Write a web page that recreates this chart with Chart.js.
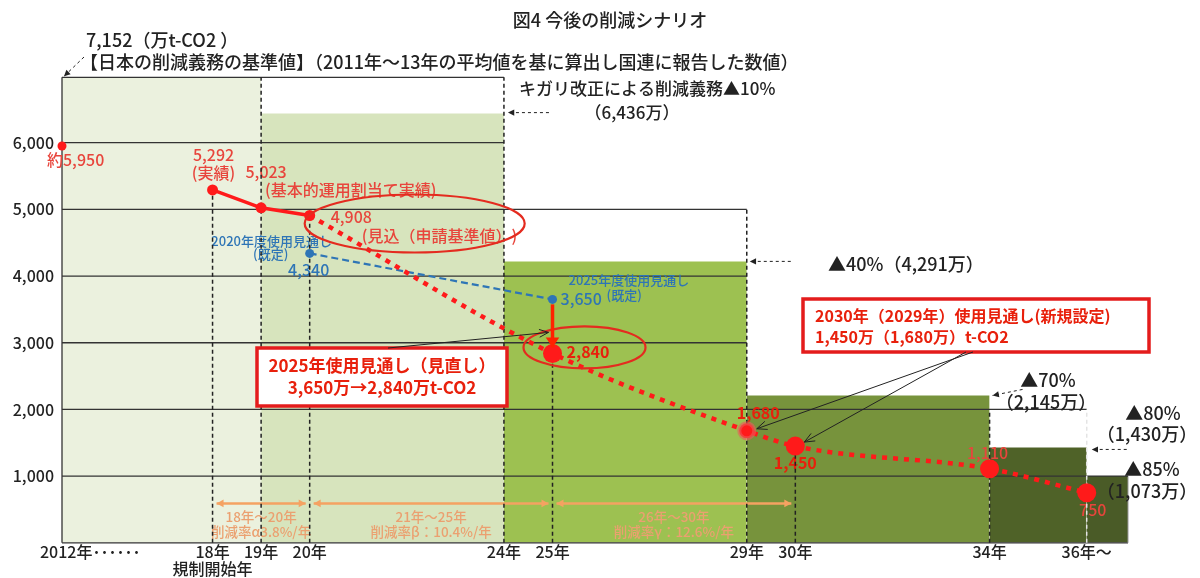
<!DOCTYPE html>
<html lang="ja">
<head>
<meta charset="utf-8">
<script src="https://cdn.jsdelivr.net/npm/chart.js@4.4.1/dist/chart.umd.min.js"></script>
<style>
  html, body { margin: 0; padding: 0; background: #fff; }
</style>
</head>
<body>
<canvas id="chart" width="1200" height="578"></canvas>
<script>
const FONT = '"Noto Sans CJK JP", "Noto Sans", sans-serif';

// x軸（年）
const xMin = 14.9, xMax = 36.85;
const xTickYears = [15.48, 18, 19, 20, 24, 25, 29, 30, 34, 36];
const xTickLabels = ['2012年･･････', ['18年', '規制開始年'], '19年', '20年', '24年', '25年', '29年', '30年', '34年', '36年～'];
// y軸
const yTicks = [1000, 2000, 3000, 4000, 5000, 6000];
const gridEnd = [36.85, 36, 29, 29, 29, 24];

// 2012年の排出量（約）
const baseValue = 5950;
// 実績
const actualYears = [18, 19, 20];
const actualValues = [5292, 5023, 4908];
// 見込・新しい使用見通し
const planYears = [20, 25, 29, 30, 34, 36];
const planValues = [4908, 2840, 1680, 1450, 1110, 750];
// 既定の使用見通し
const oldYears = [20, 25];
const oldValues = [4340, 3650];

// 削減義務の段階（基準値 → ▲10% → ▲40% → ▲70% → ▲80% → ▲85%）
const stepStart = [14.9, 19, 24, 29, 34, 36];
const stepEnd = [19, 24, 29, 34, 36, 36.85];
const stepValue = [6980, 6436, 4220, 2210, 1430, 1000];
const baseTop = 6980;

// 縦の補助線
const guideYears = [18, 19, 20, 24, 25, 29, 30, 34, 36];
const guideTops = [5292, 6980, 4908, 6980, 2840, 5000, 1450, 2000, 2000];

const stepFill = ['#ebf1de', '#d7e4bd', '#9dc151', '#77933c', '#4f6228', '#4a5b27'];
const RED = '#ff1a1a', RED_TXT = '#e8453c', BLUE = '#2e75b6', ORANGE = '#f5a262';

const ds = [];
function seg(x0, y0, x1, y1, style) {
  return Object.assign({ data: [{ x: x0, y: y0 }, { x: x1, y: y1 }], pointRadius: 0, fill: false, clip: false, tension: 0, borderWidth: 1 }, style);
}

// 塗り
stepStart.forEach((s, i) => {
  ds.push(seg(s, stepValue[i], stepEnd[i], stepValue[i], { fill: 'origin', backgroundColor: stepFill[i], borderColor: 'rgba(0,0,0,0)', borderWidth: 0 }));
});
// 枠と目盛線
ds.push(seg(xMin, baseTop, 24, baseTop, { borderColor: '#333', borderWidth: 1.3 }));
ds.push(seg(xMin, 0, xMin, baseTop, { borderColor: '#333', borderWidth: 1.3 }));
ds.push(seg(xMin, 0, xMax, 0, { borderColor: '#333', borderWidth: 1.3 }));
ds.push(seg(xMax, 0, xMax, 1000, { borderColor: '#999', borderWidth: 1 }));
yTicks.forEach((v, i) => {
  ds.push(seg(xMin, v, gridEnd[i], v, { borderColor: '#333', borderWidth: 1.3, labelHook: i === yTicks.length - 1 }));
});
// 縦の破線
guideYears.forEach((yr, i) => {
  ds.push(seg(yr, 0, yr, guideTops[i], { borderColor: yr === 36 ? '#e4e4e4' : '#222', borderWidth: 1.5, borderDash: [4, 3] }));
});
// 既定の見通し
ds.push({ data: oldYears.map((x, i) => ({ x, y: oldValues[i] })), borderColor: BLUE, backgroundColor: BLUE, borderWidth: 2.2, borderDash: [7, 4], pointRadius: 4.5, pointBorderWidth: 0, fill: false, clip: false });
// 見込（点線）
ds.push({ data: planYears.map((x, i) => ({ x, y: planValues[i] })), borderColor: RED, backgroundColor: RED, borderWidth: 4.5, borderDash: [5, 6], cubicInterpolationMode: 'monotone',
  pointRadius: [0, 9.5, 7.5, 9.5, 9.5, 9.5], pointBorderWidth: [0, 0, 4, 0, 0, 0], pointBorderColor: 'rgba(235,90,90,0.6)', fill: false, clip: false });
// 実績（実線）
ds.push({ data: actualYears.map((x, i) => ({ x, y: actualValues[i] })), borderColor: RED, backgroundColor: RED, borderWidth: 3.5, pointRadius: 5.5, pointBorderWidth: 0, fill: false, clip: false });
// 2012年
ds.push({ data: [{ x: xMin, y: baseValue }], backgroundColor: RED, pointRadius: 4.5, pointBorderWidth: 0, showLine: false, clip: false });

ds.forEach((d, i) => { d.order = ds.length - i; });

function text(ctx, s, x, y, o) {
  o = o || {};
  ctx.save();
  ctx.font = (o.bold ? 'bold ' : '500 ') + (o.size || 16) + 'px ' + FONT;
  ctx.fillStyle = o.color || '#222';
  ctx.textAlign = o.align || 'left';
  ctx.textBaseline = 'middle';
  ctx.fillText(s, x, y);
  ctx.restore();
}

function arrow(ctx, x0, y0, x1, y1, o) {
  o = o || {};
  ctx.save();
  ctx.strokeStyle = o.color || '#222';
  ctx.fillStyle = o.color || '#222';
  ctx.lineWidth = o.width || 1;
  ctx.setLineDash(o.dash || []);
  ctx.beginPath(); ctx.moveTo(x0, y0); ctx.lineTo(x1, y1); ctx.stroke();
  ctx.setLineDash([]);
  const a = Math.atan2(y1 - y0, x1 - x0), h = o.head || 7, w = o.spread || 0.45;
  const heads = o.both ? [[x1, y1, a], [x0, y0, a + Math.PI]] : [[x1, y1, a]];
  heads.forEach(([hx, hy, ang]) => {
    ctx.beginPath();
    ctx.moveTo(hx - h * Math.cos(ang - w), hy - h * Math.sin(ang - w));
    ctx.lineTo(hx, hy);
    ctx.lineTo(hx - h * Math.cos(ang + w), hy - h * Math.sin(ang + w));
    if (o.open) ctx.stroke(); else { ctx.closePath(); ctx.fill(); }
  });
  ctx.restore();
}

function ellipse(ctx, cx, cy, rx, ry) {
  ctx.save();
  ctx.strokeStyle = '#e42b1f';
  ctx.lineWidth = 2.2;
  ctx.beginPath(); ctx.ellipse(cx, cy, rx, ry, 0, 0, Math.PI * 2); ctx.stroke();
  ctx.restore();
}

function at(chart, x, y) {
  return { x: chart.scales.x.getPixelForValue(x), y: chart.scales.y.getPixelForValue(y) };
}

// 点のラベル（縦の破線より下に描く）
function drawPointLabels(chart) {
  const ctx = chart.ctx;
  let p = at(chart, xMin, baseValue);
  text(ctx, '約5,950', p.x - 15, p.y + 14, { color: RED_TXT });
  p = at(chart, actualYears[0], actualValues[0]);
  text(ctx, '5,292', p.x + 1, p.y - 35, { color: RED_TXT, align: 'center' });
  text(ctx, '(実績)', p.x + 1, p.y - 17, { color: RED_TXT, align: 'center' });
  p = at(chart, actualYears[1], actualValues[1]);
  text(ctx, '5,023', p.x + 5, p.y - 36, { color: RED_TXT, align: 'center' });
  text(ctx, '(基本的運用割当て実績)', p.x + 4, p.y - 18, { color: RED_TXT });
  p = at(chart, actualYears[2], actualValues[2]);
  text(ctx, '4,908', p.x + 21, p.y + 1, { color: RED_TXT });
  text(ctx, '(見込（申請基準値）)', p.x + 52, p.y + 20, { color: RED_TXT });

  p = at(chart, oldYears[0], oldValues[0]);
  text(ctx, '2020年度使用見通し', p.x - 38, p.y - 12, { color: BLUE, size: 13, align: 'center' });
  text(ctx, '(既定)', p.x - 39, p.y + 1, { color: BLUE, size: 13, align: 'center' });
  text(ctx, '4,340', p.x - 1, p.y + 17, { color: BLUE, align: 'center' });
  p = at(chart, oldYears[1], oldValues[1]);
  text(ctx, '2025年度使用見通し', p.x + 16, p.y - 19, { color: BLUE, size: 13 });
  text(ctx, '3,650', p.x + 8, p.y, { color: BLUE });
  text(ctx, '(既定)', p.x + 54, p.y - 4, { color: BLUE, size: 13 });

  p = at(chart, planYears[1], planValues[1]);
  text(ctx, '2,840', p.x + 14, p.y - 1, { color: '#e8200c', bold: true });
  p = at(chart, planYears[2], planValues[2]);
  text(ctx, '1,680', p.x - 10, p.y - 18, { color: '#e8200c', bold: true });
  p = at(chart, planYears[3], planValues[3]);
  text(ctx, '1,450', p.x, p.y + 17, { color: '#e8200c', bold: true, align: 'center' });
  p = at(chart, planYears[4], planValues[4]);
  text(ctx, '1,110', p.x - 2, p.y - 16, { color: RED_TXT, align: 'center' });
  p = at(chart, planYears[5], planValues[5]);
  text(ctx, '750', p.x + 6, p.y + 17, { color: RED_TXT, align: 'center' });

  // 削減率（オレンジの矢印）
  const rates = [
    [18, 20, '18年～20年', '削減率α3.8%/年'],
    [20, 25, '21年～25年', '削減率β：10.4%/年'],
    [25, 30, '26年～30年', '削減率γ：12.6%/年']
  ];
  rates.forEach(([a, b, l1, l2]) => {
    const pa = at(chart, a, 590), pb = at(chart, b, 590);
    arrow(ctx, pa.x + 4, pa.y, pb.x - 4, pb.y, { color: ORANGE, width: 2.5, head: 8, spread: 0.5, both: true });
    const cx = (pa.x + pb.x) / 2;
    text(ctx, l1, cx, pa.y + 13, { color: '#eba070', size: 13.5, align: 'center' });
    text(ctx, l2, cx, pa.y + 28, { color: '#eba070', size: 13.5, align: 'center' });
  });
}

function drawNotes(chart) {
  const ctx = chart.ctx;
  text(ctx, '図4 今後の削減シナリオ', 610, 20, { size: 18, align: 'center' });
  text(ctx, '7,152（万t-CO2 ）', 86, 40, { size: 18 });
  text(ctx, '【日本の削減義務の基準値】（2011年～13年の平均値を基に算出し国連に報告した数値）', 80, 62, { size: 18 });
  let p = at(chart, xMin, baseTop);
  arrow(ctx, 84, 57, p.x + 2, p.y - 1, { dash: [3, 3], head: 7 });

  p = at(chart, 24, stepValue[1]);
  text(ctx, 'キガリ改正による削減義務▲10%', 519, 89, { size: 17 });
  text(ctx, '（6,436万）', 632, 113, { size: 17, align: 'center' });
  arrow(ctx, p.x + 45, p.y - 1, p.x + 4, p.y - 1, { dash: [3, 3], head: 7 });

  p = at(chart, 29, stepValue[2]);
  text(ctx, '▲40%（4,291万）', 828, 264, { size: 18 });
  arrow(ctx, p.x + 44, p.y, p.x + 3, p.y, { dash: [3, 3], head: 7 });

  p = at(chart, 34, stepValue[3]);
  text(ctx, '▲70%', 1048, 380, { size: 18, align: 'center' });
  text(ctx, '（2,145万）', 1046, 402, { size: 18, align: 'center' });
  arrow(ctx, p.x + 33, p.y - 6, p.x + 3, p.y, { dash: [3, 3], head: 7 });

  p = at(chart, 36, stepValue[4]);
  text(ctx, '▲80%', 1153, 413, { size: 18, align: 'center' });
  text(ctx, '（1,430万）', 1147, 434, { size: 18, align: 'center' });
  arrow(ctx, p.x + 40, p.y + 2, p.x + 5, p.y + 2, { dash: [3, 3], head: 7 });

  text(ctx, '▲85%', 1152, 469, { size: 18, align: 'center' });
  text(ctx, '（1,073万）', 1147, 491, { size: 18, align: 'center' });

  // 楕円
  p = at(chart, actualYears[2], actualValues[2]);
  ellipse(ctx, p.x + 105, p.y + 8, 110, 29);
  p = at(chart, planYears[1], planValues[1]);
  ellipse(ctx, p.x + 32, p.y - 6, 61, 21);

  // 3,650 → 2,840 の下向き矢印
  const pOld = at(chart, oldYears[1], oldValues[1]);
  const pNew = at(chart, planYears[1], planValues[1]);
  arrow(ctx, pOld.x, pOld.y + 5, pNew.x, pNew.y - 6, { color: '#ff2200', width: 3.5, head: 12, spread: 0.6 });

  // 吹き出し1
  ctx.save();
  ctx.fillStyle = '#fff'; ctx.strokeStyle = '#e41c1c'; ctx.lineWidth = 3.5;
  ctx.fillRect(257, 348, 250, 58); ctx.strokeRect(257, 348, 250, 58);
  ctx.restore();
  text(ctx, '2025年使用見通し（見直し）', 382, 366, { size: 17, bold: true, color: '#e8200c', align: 'center' });
  text(ctx, '3,650万→2,840万t-CO2', 382, 388, { size: 17, bold: true, color: '#e8200c', align: 'center' });
  arrow(ctx, 388, 348, pNew.x - 4, pNew.y - 21, { head: 10, open: true, spread: 0.4 });

  // 吹き出し2
  ctx.save();
  ctx.fillStyle = '#fff'; ctx.strokeStyle = '#e41c1c'; ctx.lineWidth = 3.5;
  ctx.fillRect(803, 299, 346, 53); ctx.strokeRect(803, 299, 346, 53);
  ctx.restore();
  text(ctx, '2030年（2029年）使用見通し(新規設定)', 815, 316, { size: 16, bold: true, color: '#e8200c' });
  text(ctx, '1,450万（1,680万）t-CO2', 815, 337, { size: 16, bold: true, color: '#e8200c' });
  p = at(chart, planYears[2], planValues[2]);
  arrow(ctx, 973, 352, p.x + 10, p.y - 2, { head: 11, open: true, spread: 0.4 });
  p = at(chart, planYears[3], planValues[3]);
  arrow(ctx, 966, 352, p.x + 9, p.y - 4, { head: 11, open: true, spread: 0.4 });
}

const notes = {
  id: 'notes',
  afterDatasetDraw(chart, args) {
    if (chart.data.datasets[args.index].labelHook) drawPointLabels(chart);
  },
  afterDatasetsDraw(chart) { drawNotes(chart); }
};

new Chart(document.getElementById('chart'), {
  type: 'line',
  data: { datasets: ds },
  options: {
    responsive: false,
    animation: false,
    layout: { padding: { top: 76, right: 72, left: 0, bottom: 0 } },
    plugins: { legend: { display: false }, tooltip: { enabled: false } },
    scales: {
      x: {
        type: 'linear', min: xMin, max: xMax,
        grid: { display: false, drawTicks: false },
        border: { display: false },
        afterBuildTicks: s => { s.ticks = xTickYears.map(v => ({ value: v })); },
        ticks: { autoSkip: false, maxRotation: 0, padding: 0, color: '#222', font: { family: FONT, size: 16, weight: '500', lineHeight: 1.1 },
          callback: (v, i) => xTickLabels[i] }
      },
      y: {
        min: 0, max: 7000,
        grid: { display: false, drawTicks: false },
        border: { display: false },
        afterBuildTicks: s => { s.ticks = yTicks.map(v => ({ value: v })); },
        afterFit: s => { s.width = 62; },
        ticks: { padding: 8, color: '#222', font: { family: FONT, size: 16, weight: '500' },
          callback: v => v.toLocaleString('en-US') }
      }
    }
  },
  plugins: [notes]
});
</script>
</body>
</html>
